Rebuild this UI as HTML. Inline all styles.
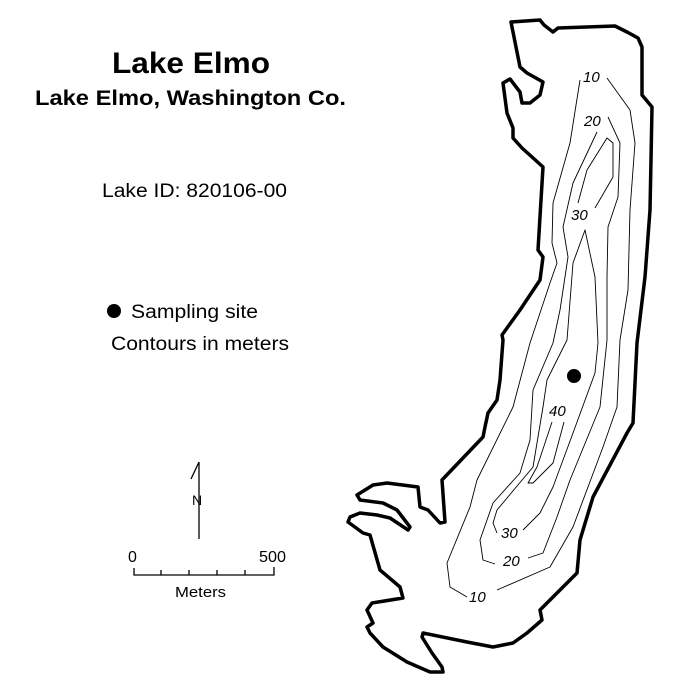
<!DOCTYPE html>
<html><head><meta charset="utf-8"><style>
html,body{margin:0;padding:0;background:#fff;}
svg{display:block;}
text{font-family:"Liberation Sans",Arial,sans-serif;}
</style></head><body>
<svg width="699" height="695" viewBox="0 0 699 695" xmlns="http://www.w3.org/2000/svg">
<rect width="699" height="695" fill="#fff"/>
<text x="112" y="73" font-size="30" font-weight="bold" textLength="158" lengthAdjust="spacingAndGlyphs">Lake Elmo</text>
<text x="35" y="105" font-size="21" font-weight="bold" textLength="311" lengthAdjust="spacingAndGlyphs">Lake Elmo, Washington Co.</text>
<text x="102" y="197" font-size="19" textLength="185" lengthAdjust="spacingAndGlyphs">Lake ID: 820106-00</text>
<circle cx="114" cy="311" r="7" fill="#000"/>
<text x="131" y="318" font-size="19" textLength="127" lengthAdjust="spacingAndGlyphs">Sampling site</text>
<text x="111" y="350" font-size="19" textLength="178" lengthAdjust="spacingAndGlyphs">Contours in meters</text>
<g stroke="#000" fill="none" stroke-width="1.3">
<line x1="199" y1="462" x2="199" y2="539"/>
<line x1="199" y1="462" x2="191" y2="479"/>
<polyline points="134,568 134,575 274,575 274,567"/>
<line x1="161" y1="575" x2="161" y2="570"/>
<line x1="189" y1="575" x2="189" y2="570"/>
<line x1="217" y1="575" x2="217" y2="570"/>
<line x1="245" y1="575" x2="245" y2="570"/>
</g>
<text x="192" y="505" font-size="14">N</text>
<text x="128" y="562" font-size="16">0</text>
<text x="259" y="562" font-size="16" textLength="27" lengthAdjust="spacingAndGlyphs">500</text>
<text x="175" y="597" font-size="15" textLength="51" lengthAdjust="spacingAndGlyphs">Meters</text>
<path fill="none" stroke="#000" stroke-width="3.5" stroke-linejoin="round" d="M511,22 L540,20 L544,25 L553,32 L558,28 L615,26 L627,32 L638,38 L642,47 L642,95 L652,107 L651,160 L650,210 L645,277 L637,343 L633,423 L627,433 L593,497 L580,540 L577,573 L540,610 L542,620 L527,633 L513,643 L493,647 L467,642 L423,633 L422,637 L432,653 L442,667 L443,672 L430,672 L407,662 L383,647 L370,633 L367,627 L373,623 L367,610 L372,603 L403,598 L400,587 L380,570 L370,535 L363,533 L348,522 L350,517 L360,513 L377,515 L390,518 L408,530 L410,527 L397,510 L383,503 L360,500 L357,495 L373,485 L387,483 L418,487 L420,507 L428,510 L440,523 L445,522 L442,480 L483,437 L485,427 L488,413 L497,400 L500,380 L503,340 L502,335 L520,310 L540,280 L543,257 L538,250 L543,167 L532,157 L522,148 L513,138 L513,128 L507,113 L503,83 L510,79 L520,92 L522,103 L530,103 L540,95 L543,82 L527,73 L520,67 Z"/>
<g fill="none" stroke="#000" stroke-width="0.9" stroke-linejoin="round">
<path d="M580,80 L570,143 L553,203 L552,243 L557,263 L550,283 L530,343 L513,407 L477,480 L470,507 L447,563 L450,587 L467,597"/>
<path d="M497,590 L550,567 L573,527 L603,447 L617,407 L620,340 L628,290 L630,210 L635,143 L630,110 L607,78"/>
<path d="M597,132 L573,183 L563,227 L568,257 L560,310 L553,343 L533,390 L530,440 L520,473 L493,503 L480,540 L483,560 L495,564"/>
<path d="M528,558 L543,553 L557,517 L570,480 L600,407 L607,340 L607,277 L608,227 L618,197 L620,143 L608,117"/>
<path d="M578,203 L587,170 L607,138 L613,143 L613,177 L595,208"/>
<path d="M523,530 L540,513 L553,487 L573,433 L595,373 L598,343 L595,277 L585,230 L573,263 L567,340 L547,380 L543,407 L533,467 L497,510 L493,523 L497,533"/>
<path d="M552,422 L537,467 L528,483 L533,483 L553,463 L564,422"/>
</g>
<g font-size="15" font-style="italic">
<text x="583" y="82">10</text>
<text x="584" y="126">20</text>
<text x="571" y="220">30</text>
<text x="549" y="416">40</text>
<text x="501" y="538">30</text>
<text x="503" y="566">20</text>
<text x="469" y="602">10</text>
</g>
<circle cx="574" cy="376" r="7" fill="#000"/>
</svg>
</body></html>
